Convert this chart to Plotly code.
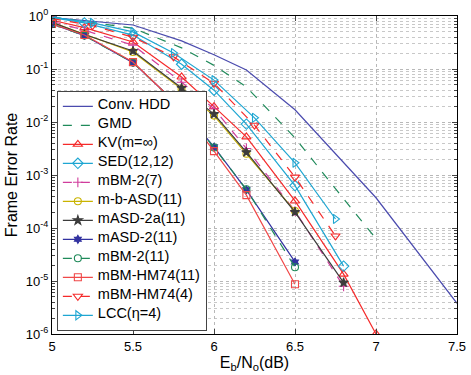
import plotly.graph_objects as go

# Eb/No (dB) grids
x_a = [5, 5.5, 5.8, 6, 6.2, 6.5, 7, 7.5]
x_b = [5, 5.5, 5.8, 6, 6.2, 6.5, 6.8, 7]
x_kv = [5, 5.2, 5.5, 5.8, 6, 6.2, 6.5, 6.8, 7]
x_c = [5, 5.2, 5.5, 5.8, 6, 6.2, 6.5, 6.8]
x_d = [5, 5.2, 5.5, 5.8, 6, 6.2, 6.5]
x_q = [5, 5.25, 5.5, 5.75, 6, 6.25, 6.5, 6.75]

# frame error rates
fer_hdd = [0.93, 0.676, 0.339, 0.186, 0.0955, 0.017, 3.72e-4, 3.8e-6]
fer_gmd = [0.955, 0.589, 0.251, 0.117, 0.0457, 0.005, 3.55e-4, 6.31e-5]
fer_kv = [0.832, 0.603, 0.324, 0.0708, 0.0195, 0.00525, 3.24e-4, 1.35e-5, 1e-6]
fer_sed = [0.933, 0.741, 0.437, 0.123, 0.0398, 0.00912, 6.31e-4, 1.91e-5]
fer_mbm2_7 = [0.794, 0.537, 0.282, 0.0562, 0.0178, 0.00316, 2.09e-4, 7.94e-6]
fer_mbasd = [0.759, 0.457, 0.209, 0.0417, 0.0132, 0.00251, 2.09e-4]
fer_masd2a = [0.759, 0.447, 0.219, 0.0437, 0.0141, 0.00269, 2.0e-4, 9.33e-6]
fer_masd2 = [0.708, 0.427, 0.132, 0.0182, 0.00339, 5.25e-4, 2.29e-5]
fer_mbm2_11 = [0.708, 0.427, 0.132, 0.0178, 0.00331, 5.37e-4, 1.82e-5]
fer_hm74_11 = [0.708, 0.437, 0.135, 0.0178, 0.00282, 4.17e-4, 8.71e-6]
fer_hm74_4 = [0.891, 0.661, 0.398, 0.170, 0.0537, 0.00871, 9.12e-4, 7.08e-5]
fer_lcc = [0.955, 0.741, 0.501, 0.2, 0.0617, 0.012, 0.0017, 1.48e-4]

ytick_vals = [1, 1e-1, 1e-2, 1e-3, 1e-4, 1e-5, 1e-6]
ytick_text = ["10<sup>0</sup>", "10<sup>-1</sup>", "10<sup>-2</sup>", "10<sup>-3</sup>",
              "10<sup>-4</sup>", "10<sup>-5</sup>", "10<sup>-6</sup>"]

series = [
    ("Conv. HDD", x_a, fer_hdd, "#4b4bae", "solid", None, 7),
    ("GMD", x_b, fer_gmd, "#1f8a5a", "dash", None, 7),
    ("KV(m=∞)", x_kv, fer_kv, "#f52a2a", "solid", "triangle-up-open", 8),
    ("SED(12,12)", x_c, fer_sed, "#1ea6d2", "solid", "diamond-open", 8),
    ("mBM-2(7)", x_c, fer_mbm2_7, "#d03c9c", "dash", "cross-thin-open", 7),
    ("m-b-ASD(11)", x_d, fer_mbasd, "#c9b300", "solid", "circle-open", 7),
    ("mASD-2a(11)", x_c, fer_masd2a, "#3c3c3c", "solid", "star", 7),
    ("mASD-2(11)", x_d, fer_masd2, "#3232a0", "solid", "hexagram", 6),
    ("mBM-2(11)", x_d, fer_mbm2_11, "#1f8a5a", "dash", "circle-open", 7),
    ("mBM-HM74(11)", x_d, fer_hm74_11, "#f04848", "solid", "square-open", 7),
    ("mBM-HM74(4)", x_q, fer_hm74_4, "#f52a2a", "dash", "triangle-down-open", 8),
    ("LCC(η=4)", x_q, fer_lcc, "#1ea6d2", "solid", "triangle-right-open", 8),
]

fig = go.Figure()
for name, xs, ys, color, dash, sym, msize in series:
    fig.add_trace(go.Scatter(
        x=xs, y=ys,
        # text size set on the entry so the rows stay tight
        name='<span style="font-size:14.5px">%s</span>' % name,
        mode="lines+markers" if sym else "lines",
        line=dict(color=color, width=1.2, dash=dash),
        marker=dict(symbol=sym or "circle", size=msize, color=color,
                    line=dict(color=color, width=1.1)),
    ))

grid = dict(showgrid=True, gridcolor="#b8b8b8", griddash="dot", gridwidth=1)
fig.update_xaxes(range=[5, 7.5], dtick=0.5, ticks="inside", ticklen=5,
                 showline=True, linecolor="black", linewidth=1, mirror="allticks",
                 zeroline=False, automargin=False,
                 title=dict(text="E<sub>b</sub>/N<sub>o</sub>(dB)", standoff=0),
                 **grid)
fig.update_yaxes(type="log", range=[-6, 0], tickvals=ytick_vals, ticktext=ytick_text,
                 ticks="inside", ticklen=5, showline=True, linecolor="black",
                 linewidth=1, mirror="allticks", zeroline=False, automargin=False,
                 title=dict(text="Frame Error Rate", standoff=4),
                 minor=dict(dtick="D1", showgrid=True, gridcolor="#c8c8c8",
                            griddash="dot", ticks="inside", ticklen=3),
                 **grid)

fig.update_layout(
    width=471, height=375,
    margin=dict(l=52, r=14, t=16, b=41),
    plot_bgcolor="white", paper_bgcolor="white",
    font=dict(family="Liberation Sans, Arial, sans-serif", size=13, color="black"),
    legend=dict(x=0.012, y=0.01, xanchor="left", yanchor="bottom",
                bgcolor="white", bordercolor="#444444", borderwidth=1,
                font=dict(size=7), tracegroupgap=0),
)

# drop the page's default body margin so the figure sits at the window corner
fig.write_html("out.html", config={"displayModeBar": False},
               post_script="document.body.style.margin='0';")
